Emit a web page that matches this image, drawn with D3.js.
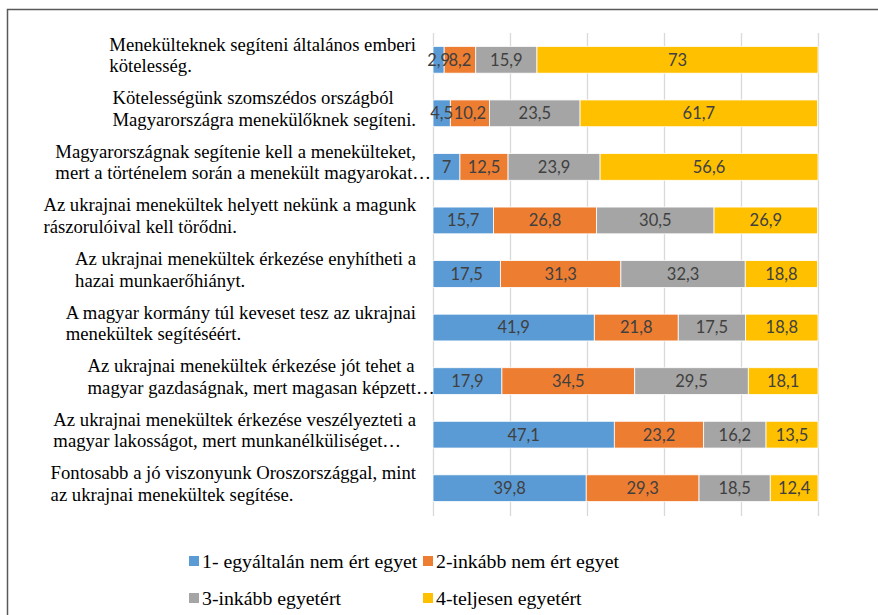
<html><head><meta charset="utf-8"><title>Menekültek</title>
<style>
  body { margin: 0; background: #fff; }
  svg { display: block; }
  .cat { font-family: "Liberation Serif", "Times New Roman", serif; font-size: 18.7px; fill: #000; }
  .val { font-family: Lato, "Open Sans", sans-serif; font-size: 16.5px; fill: #404040; }
  .leg { font-family: "Liberation Serif", "Times New Roman", serif; font-size: 19.8px; fill: #000; }
</style>
</head>
<body>
<svg id="chart" width="878" height="615"></svg>
<script src="https://cdnjs.cloudflare.com/ajax/libs/d3/7.8.5/d3.min.js"></script>
<script>
  const categories = [
    "Menekülteknek segíteni általános emberi\nkötelesség.",
    "Kötelességünk szomszédos országból\nMagyarországra menekülőknek segíteni.",
    "Magyarországnak segítenie kell a menekülteket,\nmert a történelem során a menekült magyarokat…",
    "Az ukrajnai menekültek helyett nekünk a magunk\nrászorulóival kell törődni.",
    "Az ukrajnai menekültek érkezése enyhítheti a\nhazai munkaerőhiányt.",
    "A magyar kormány túl keveset tesz az ukrajnai\nmenekültek segítéséért.",
    "Az ukrajnai menekültek érkezése jót tehet a\nmagyar gazdaságnak, mert magasan képzett…",
    "Az ukrajnai menekültek érkezése veszélyezteti a\nmagyar lakosságot, mert munkanélküliséget…",
    "Fontosabb a jó viszonyunk Oroszországgal, mint\naz ukrajnai menekültek segítése."
  ];
  const seriesNames = ["1- egyáltalán nem ért egyet", "2-inkább nem ért egyet", "3-inkább egyetért", "4-teljesen egyetért"];
  const s1 = [2.9, 4.5, 7, 15.7, 17.5, 41.9, 17.9, 47.1, 39.8];
  const s2 = [8.2, 10.2, 12.5, 26.8, 31.3, 21.8, 34.5, 23.2, 29.3];
  const s3 = [15.9, 23.5, 23.9, 30.5, 32.3, 17.5, 29.5, 16.2, 18.5];
  const s4 = [73, 61.7, 56.6, 26.9, 18.8, 18.8, 18.1, 13.5, 12.4];
  const xTicks = [0, 20, 40, 60, 80, 100];
  const colors = ["#5B9BD5", "#ED7D31", "#A5A5A5", "#FFC000"];

  const svg = d3.select("#chart");

  // outer frame (runs off right and bottom edges)
  svg.append("rect").attr("x", 7.5).attr("y", 9.5).attr("width", 900).attr("height", 700)
    .attr("fill", "none").attr("stroke", "#595959").attr("stroke-width", 1.5);

  const x = d3.scaleLinear().domain([0, 100]).range([433, 818]);
  const y = d3.scaleBand().domain(d3.range(categories.length)).range([33, 515]).paddingInner(0.5).paddingOuter(0.25);

  // gridlines
  svg.append("g").selectAll("line").data(xTicks).enter().append("line")
    .attr("x1", d => x(d) + 0.5).attr("x2", d => x(d) + 0.5)
    .attr("y1", 33).attr("y2", 516)
    .attr("stroke", "#D9D9D9").attr("stroke-width", 1.3);

  const rows = categories.map((c, i) => [s1[i], s2[i], s3[i], s4[i]]);
  const stackData = rows.map(r => ({ a: r[0], b: r[1], c: r[2], d: r[3] }));
  const stacked = d3.stack().keys(["a", "b", "c", "d"])(stackData);

  const layers = svg.append("g").selectAll("g").data(stacked).enter().append("g")
    .attr("fill", (d, i) => colors[i]);

  layers.selectAll("rect").data(d => d).enter().append("rect")
    .attr("x", d => x(d[0]))
    .attr("y", (d, i) => y(i))
    .attr("width", d => x(d[1]) - x(d[0]))
    .attr("height", y.bandwidth())
    .attr("stroke", "#fff").attr("stroke-width", 0.8);

  // value labels on top of all bars
  const labels = svg.append("g").selectAll("g").data(stacked).enter().append("g");
  labels.selectAll("text").data(d => d).enter().append("text")
    .attr("class", "val")
    .attr("x", d => (x(d[0]) + x(d[1])) / 2)
    .attr("y", (d, i) => y(i) + y.bandwidth() / 2)
    .attr("dy", "0.36em")
    .attr("text-anchor", "middle")
    .text(d => String(+(d[1] - d[0]).toFixed(1)).replace(".", ","));

  // category labels: block right-aligned, lines left-aligned; a trailing "…" hangs past the edge
  const labelRight = 416;
  categories.forEach((c, i) => {
    const lines = c.split("\n");
    const cy = y(i) + y.bandwidth() / 2;
    const t = svg.append("text").attr("class", "cat");
    lines.forEach((ln, j) => {
      t.append("tspan").attr("x", 0).attr("y", cy - 9 + j * 21.5).text(ln);
    });
    const w = d3.max(t.selectAll("tspan").nodes(), n => {
      const s = n.textContent;
      return s.endsWith("…") ? n.getSubStringLength(0, s.length - 1) : n.getComputedTextLength();
    });
    t.selectAll("tspan").attr("x", labelRight - w);
  });

  // legend
  const legPos = [[189, 561], [423, 561], [189, 598], [423, 598]];
  const leg = svg.append("g").selectAll("g").data(seriesNames).enter().append("g")
    .attr("transform", (d, i) => `translate(${legPos[i][0]},${legPos[i][1]})`);
  leg.append("rect").attr("x", 0).attr("y", -5).attr("width", 10).attr("height", 10)
    .attr("fill", (d, i) => colors[i]);
  leg.append("text").attr("class", "leg").attr("x", 13).attr("y", 7).text(d => d);
</script>
</body></html>
